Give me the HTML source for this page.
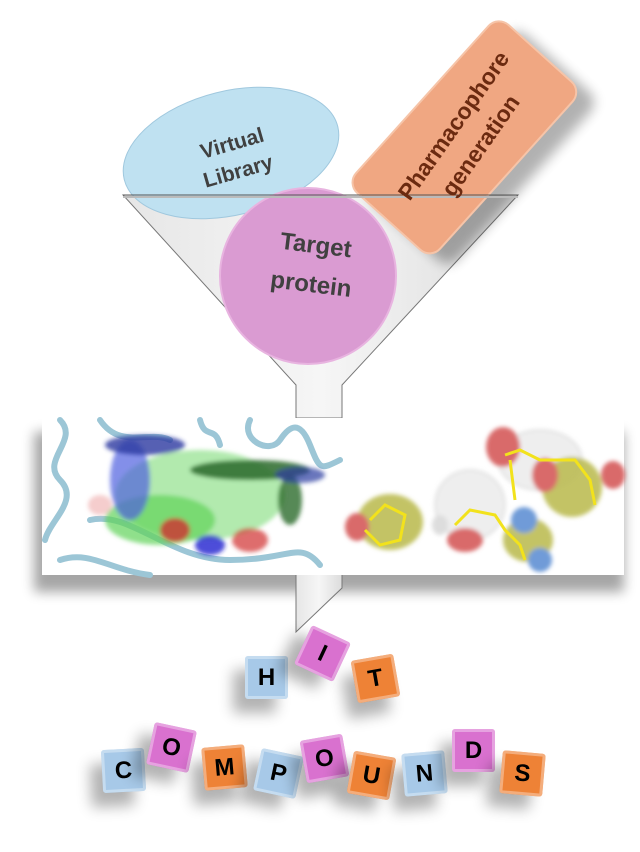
<!DOCTYPE html>
<html><head><meta charset="utf-8"><style>
html,body{margin:0;padding:0;background:#fff;}
body{width:640px;height:852px;position:relative;overflow:hidden;font-family:"Liberation Sans",sans-serif;}
.t{position:absolute;width:43px;height:43px;border-radius:3px;font:bold 24px "Liberation Sans",sans-serif;color:#000;display:flex;align-items:center;justify-content:center;box-shadow:-12px 14px 14px rgba(0,0,0,0.3), inset 0 0 0 3px rgba(255,255,255,0.35);}
.b{background:#a7c9e8;}.p{background:#d971cf;}.o{background:#ee8236;}
</style></head><body>
<svg width="640" height="852" style="position:absolute;left:0;top:0">
<defs>
<filter id="bl" x="-20%" y="-20%" width="140%" height="140%"><feGaussianBlur stdDeviation="6"/></filter>
<filter id="bl2"><feGaussianBlur stdDeviation="2"/></filter>
<linearGradient id="fg" x1="0" x2="1"><stop offset="0" stop-color="#e6e6e6"/><stop offset="0.5" stop-color="#f6f6f6"/><stop offset="1" stop-color="#dcdcdc"/></linearGradient>
</defs>
<path d="M123,195 L518,195 L342,385 L342,418 L296,418 L296,385 Z" fill="url(#fg)" stroke="#777" stroke-width="1"/>
<g transform="translate(474,147) rotate(-48)"><rect x="-108" y="-50" width="226" height="113" rx="14" fill="#000" opacity="0.3" filter="url(#bl)"/></g>
<g transform="translate(231,153) rotate(-14)"><ellipse rx="110" ry="62" fill="#bfe1f1" stroke="#a0c8de"/></g>
<g transform="translate(464,137) rotate(-48)"><rect x="-113" y="-56" width="226" height="113" rx="14" fill="#f0a782" stroke="#f6c4a8" stroke-width="2"/></g>
<circle cx="308" cy="276" r="88" fill="#da9bd2" stroke="#e8b4e0" stroke-width="2"/>
<line x1="123" y1="195" x2="518" y2="195" stroke="#555" stroke-width="1"/>
<line x1="123" y1="197" x2="518" y2="197" stroke="#bbb" stroke-width="2"/>
<g font-family="Liberation Sans, sans-serif" font-weight="bold" fill="#404040">
<text transform="translate(234,150) rotate(-16)" text-anchor="middle" font-size="21">Virtual</text>
<text transform="translate(240,178) rotate(-16)" text-anchor="middle" font-size="21">Library</text>
<text transform="translate(315,253) rotate(7)" text-anchor="middle" font-size="24">Target</text>
<text transform="translate(310,292) rotate(7)" text-anchor="middle" font-size="24">protein</text>
<text transform="translate(460,130) rotate(-55)" text-anchor="middle" font-size="23" fill="#6b2a10">Pharmacophore</text>
<text transform="translate(487,150) rotate(-55)" text-anchor="middle" font-size="23" fill="#6b2a10">generation</text>
</g>
<rect x="34" y="432" width="590" height="160" fill="#000" opacity="0.35" filter="url(#bl)"/>
<path d="M296,570 L342,570 L342,588 L296,632 Z" fill="url(#fg)" stroke="#777"/>
<rect x="42" y="418" width="304" height="157" fill="#fff"/>
<g fill="none" stroke="#9cc6d6" stroke-width="6" stroke-linecap="round">
<path d="M60,420 C80,440 40,460 60,480 S50,520 45,540"/>
<path d="M100,420 C120,450 150,430 170,440"/>
<path d="M90,520 C130,510 170,560 230,560 S300,540 320,565"/>
<path d="M250,420 C240,440 270,455 280,440 S300,420 310,445 S320,470 340,460"/>
<path d="M60,560 C90,550 110,570 150,575"/>
<path d="M200,420 C205,440 215,425 220,445"/>
</g>
<g filter="url(#bl2)">
<ellipse cx="200" cy="495" rx="85" ry="45" fill="#9fe59a" opacity="0.8"/>
<ellipse cx="160" cy="520" rx="55" ry="25" fill="#5fd35a" opacity="0.7"/>
<ellipse cx="130" cy="480" rx="20" ry="40" fill="#5060e0" opacity="0.7"/>
<ellipse cx="145" cy="445" rx="40" ry="10" fill="#2a3aa0" opacity="0.8"/>
<ellipse cx="250" cy="470" rx="60" ry="10" fill="#2b6a2b" opacity="0.85"/>
<ellipse cx="175" cy="530" rx="15" ry="12" fill="#d03030" opacity="0.8"/>
<ellipse cx="210" cy="545" rx="15" ry="10" fill="#2020d0" opacity="0.8"/>
<ellipse cx="250" cy="540" rx="18" ry="12" fill="#d03030" opacity="0.7"/>
<ellipse cx="290" cy="500" rx="12" ry="25" fill="#2b6a2b" opacity="0.8"/>
<ellipse cx="300" cy="475" rx="25" ry="8" fill="#2a3aa0" opacity="0.7"/>
<ellipse cx="100" cy="505" rx="12" ry="10" fill="#f2c0c0" opacity="0.8"/>
</g>
<rect x="346" y="418" width="278" height="157" fill="#fff"/>
<g filter="url(#bl2)">
<ellipse cx="540" cy="460" rx="42" ry="30" fill="#eeeeee" stroke="#ccc"/>
<ellipse cx="470" cy="505" rx="35" ry="35" fill="#eeeeee" stroke="#ccc"/>
<ellipse cx="390" cy="522" rx="33" ry="28" fill="#b8b84a" opacity="0.85"/>
<ellipse cx="572" cy="487" rx="30" ry="30" fill="#b8b84a" opacity="0.85"/>
<ellipse cx="528" cy="540" rx="25" ry="22" fill="#b8b84a" opacity="0.85"/>
<ellipse cx="503" cy="447" rx="17" ry="20" fill="#d96a6a"/>
<ellipse cx="545" cy="475" rx="13" ry="17" fill="#d96a6a"/>
<ellipse cx="613" cy="475" rx="12" ry="14" fill="#d96a6a"/>
<ellipse cx="357" cy="527" rx="12" ry="14" fill="#d96a6a"/>
<ellipse cx="465" cy="540" rx="18" ry="12" fill="#d96a6a"/>
<ellipse cx="524" cy="520" rx="13" ry="13" fill="#6f9bd8"/>
<ellipse cx="540" cy="560" rx="12" ry="12" fill="#6f9bd8"/>
<ellipse cx="440" cy="525" rx="8" ry="10" fill="#ddd"/>
</g>
<g stroke="#f2e21c" stroke-width="3" fill="none">
<path d="M370,520 L385,505 L405,515 L400,540 L380,545 L365,530"/>
<path d="M455,525 L470,510 L495,515 L505,530 L520,545 L525,560"/>
<path d="M505,455 L520,450 L540,460 L575,460 L590,480 L595,505"/>
<path d="M510,460 L515,500"/>
</g>
</svg>
<div class="t b" style="left:245px;top:656px;">H</div>
<div class="t p" style="left:301px;top:632px;transform:rotate(25deg)">I</div>
<div class="t o" style="left:354px;top:657px;transform:rotate(-10deg)">T</div>
<div class="t b" style="left:102px;top:749px;transform:rotate(-3deg)">C</div>
<div class="t p" style="left:150px;top:726px;transform:rotate(12deg)">O</div>
<div class="t o" style="left:203px;top:746px;transform:rotate(-5deg)">M</div>
<div class="t b" style="left:257px;top:752px;transform:rotate(12deg)">P</div>
<div class="t p" style="left:303px;top:737px;transform:rotate(-10deg)">O</div>
<div class="t o" style="left:350px;top:754px;transform:rotate(10deg)">U</div>
<div class="t b" style="left:403px;top:752px;transform:rotate(-5deg)">N</div>
<div class="t p" style="left:452px;top:729px;">D</div>
<div class="t o" style="left:501px;top:752px;transform:rotate(5deg)">S</div>
</body></html>
